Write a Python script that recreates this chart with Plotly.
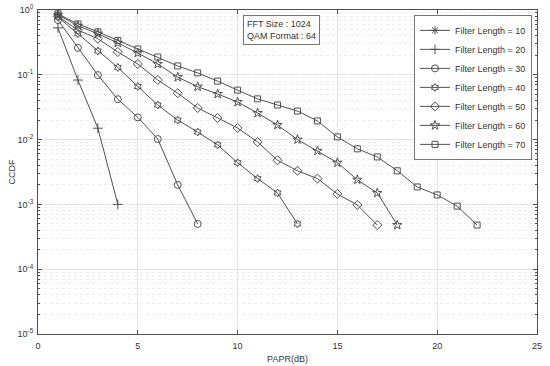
import plotly.graph_objects as go

# ---- data ----
papr_10 = [1]
ccdf_10 = [0.85]

papr_20 = [1, 2, 3, 4]
ccdf_20 = [0.53, 0.083, 0.015, 0.001]

papr_30 = [1, 2, 3, 4, 5, 6, 7, 8]
ccdf_30 = [0.70, 0.26, 0.099, 0.042, 0.022, 0.0102, 0.002, 0.0005]

papr_40 = list(range(1, 14))
ccdf_40 = [0.78, 0.43, 0.233, 0.13, 0.066, 0.0342, 0.020, 0.0131, 0.0083,
           0.0044, 0.0025, 0.0015, 0.0005]

papr_50 = list(range(1, 18))
ccdf_50 = [0.80, 0.49, 0.36, 0.225, 0.147, 0.083, 0.052, 0.0308, 0.0216,
           0.0151, 0.0092, 0.0048, 0.0033, 0.0025, 0.00145, 0.00098, 0.00048]

papr_60 = list(range(1, 19))
ccdf_60 = [0.84, 0.57, 0.43, 0.31, 0.217, 0.147, 0.092, 0.0655, 0.0506,
           0.038, 0.0257, 0.0168, 0.0100, 0.0067, 0.0044, 0.0024, 0.0015, 0.00048]

papr_70 = list(range(1, 23))
ccdf_70 = [0.87, 0.61, 0.46, 0.34, 0.25, 0.188, 0.137, 0.107, 0.080, 0.058,
           0.0425, 0.0342, 0.0276, 0.0194, 0.011, 0.0072, 0.0054, 0.0033,
           0.00186, 0.0014, 0.00094, 0.00048]

names = ["Filter Length = 10", "Filter Length = 20", "Filter Length = 30",
         "Filter Length = 40", "Filter Length = 50", "Filter Length = 60",
         "Filter Length = 70"]

x_ticks = [0, 5, 10, 15, 20, 25]
y_tickvals = [1e-5, 1e-4, 1e-3, 1e-2, 1e-1, 1]
y_ticktext = ["10<sup>-5</sup>", "10<sup>-4</sup>", "10<sup>-3</sup>",
              "10<sup>-2</sup>", "10<sup>-1</sup>", "10<sup>0</sup>"]

series = [
    (papr_10, ccdf_10, "asterisk-open", 7),
    (papr_20, ccdf_20, "cross-thin-open", 7),
    (papr_30, ccdf_30, "circle-open", 7),
    (papr_40, ccdf_40, "hexagram-open", 6),
    (papr_50, ccdf_50, "diamond-open", 7),
    (papr_60, ccdf_60, "star-open", 7),
    (papr_70, ccdf_70, "square-open", 6),
]

LINE = "#505050"
TEXT = "#333333"
FONT = "Liberation Sans, Arial, sans-serif"

fig = go.Figure()
for (xs, ys, sym, sz), nm in zip(series, names):
    fig.add_trace(go.Scatter(
        x=xs, y=ys, name=nm, mode="lines+markers",
        line=dict(color=LINE, width=1),
        marker=dict(symbol=sym, size=sz, color=LINE,
                    line=dict(color=LINE, width=1)),
    ))

fig.update_layout(
    width=550, height=366,
    margin=dict(l=38, r=13, t=10, b=32, autoexpand=False),
    paper_bgcolor="white", plot_bgcolor="white",
    font=dict(family=FONT, size=9, color=TEXT),
    showlegend=True,
    legend=dict(
        x=0.99, y=0.985, xanchor="right", yanchor="top",
        bgcolor="white", bordercolor="#777", borderwidth=1,
        font=dict(size=9, color=TEXT), tracegroupgap=0,
        itemwidth=30,
    ),
    annotations=[dict(
        x=0.411, y=0.985, xref="paper", yref="paper",
        xanchor="left", yanchor="top", align="left", showarrow=False,
        text="FFT Size : 1024<br>QAM Format : 64",
        font=dict(size=9, color=TEXT),
        bordercolor="#777", borderwidth=1, borderpad=3, bgcolor="white",
    )],
)

fig.update_xaxes(
    automargin=False,
    range=[0, 25], tickvals=x_ticks, ticks="inside", ticklen=4,
    tickcolor=LINE, showline=True, linecolor=LINE, linewidth=1, mirror="ticks",
    showgrid=True, gridcolor="#e3e3e3", gridwidth=1, zeroline=False,
    title=dict(text="PAPR(dB)", font=dict(size=9, color=TEXT), standoff=5),
    ticklabelstandoff=3,
)
fig.update_yaxes(
    automargin=False,
    type="log", range=[-5, 0], tickvals=y_tickvals, ticktext=y_ticktext,
    ticks="inside", ticklen=4, tickcolor=LINE,
    showline=True, linecolor=LINE, linewidth=1, mirror="ticks",
    showgrid=True, gridcolor="#e3e3e3", gridwidth=1, zeroline=False,
    minor=dict(dtick="D1", ticks="inside", ticklen=2, tickcolor=LINE,
               showgrid=True, gridcolor="#ececec", griddash="dot"),
    title=dict(text="CCDF", font=dict(size=9, color=TEXT), standoff=0),
    ticklabelstandoff=2,
)

fig.write_html(
    "out.html",
    config={"displayModeBar": False},
    post_script="document.body.style.margin='0';document.body.style.padding='0';",
)
